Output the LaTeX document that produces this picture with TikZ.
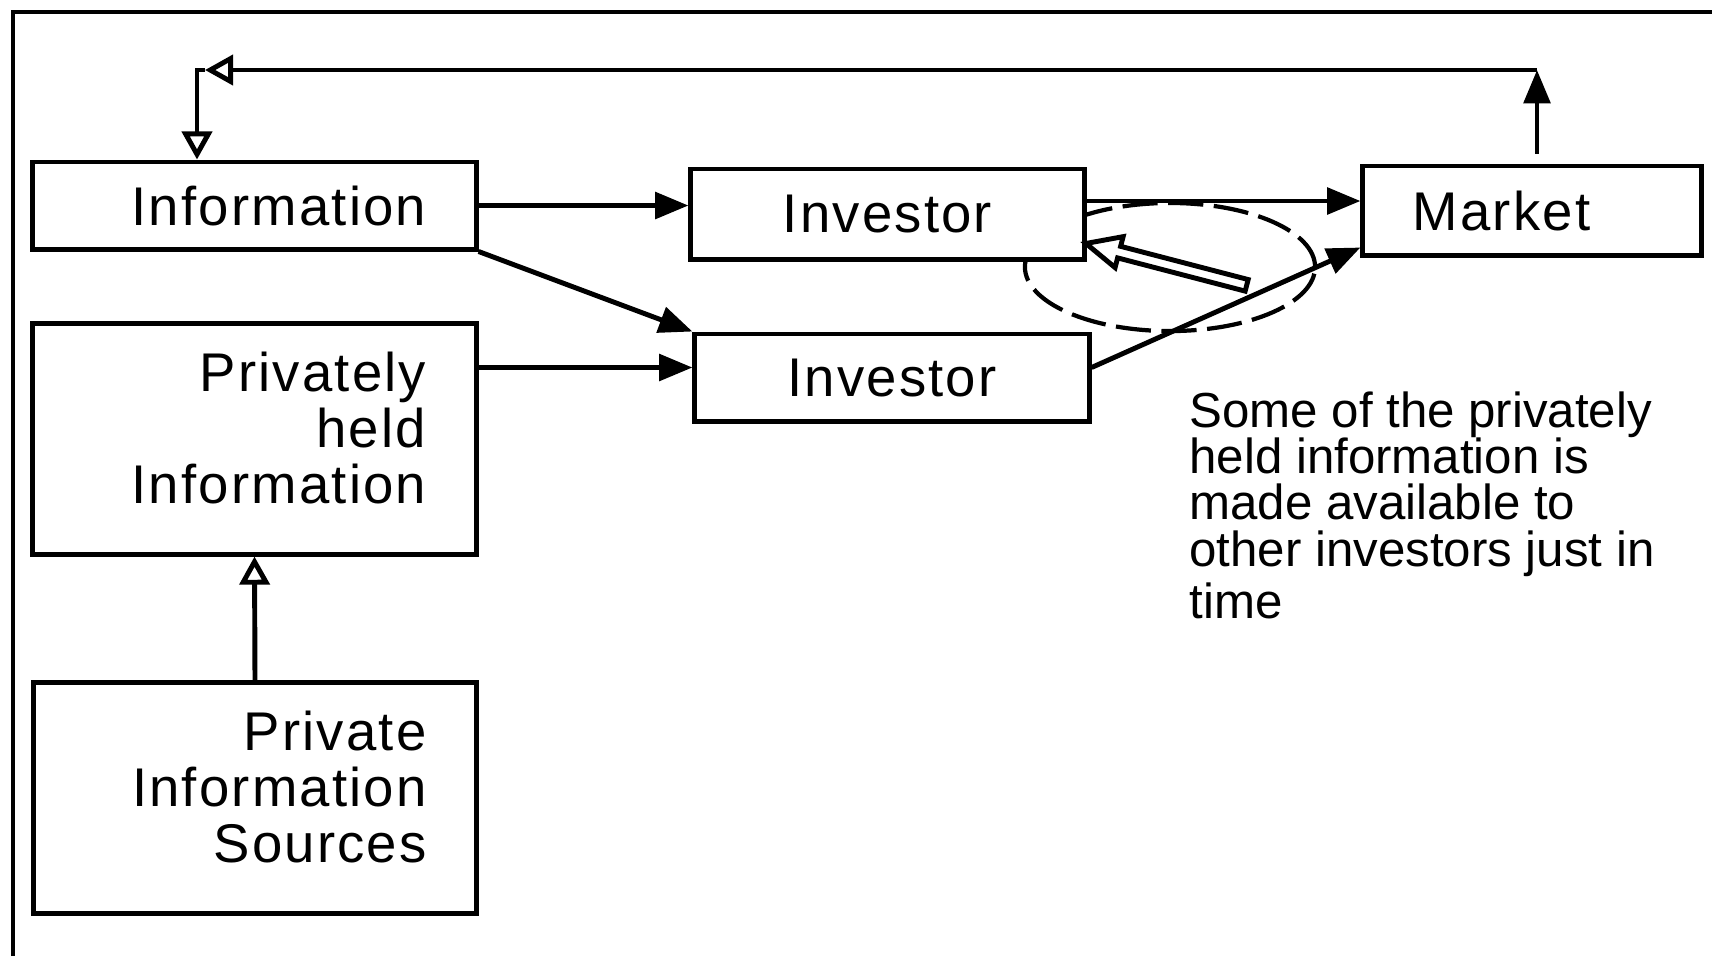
\documentclass[tikz,border=0pt]{standalone}
\usepackage{fontspec}
\setmainfont{Liberation Sans}
\usetikzlibrary{arrows.meta,shapes.arrows}

\begin{document}
\begin{tikzpicture}[x=0.01cm, y=-0.01cm, line width=1.4pt,
    box/.style={draw, fill=white, inner ysep=0pt, font=\fontsize{15.5}{16}\selectfont\addfontfeatures{LetterSpace=4}},
    sinistra/.style={box, minimum width=4.43cm, text width=3.43cm, inner xsep=0.5cm, align=right},
    pieno/.style={-{Triangle[length=9.5pt, width=7.5pt]}},
    vuoto/.style={-{Triangle[open, length=8pt, width=8.5pt]}}]
    % Cornice: solo lato superiore e sinistro
    \useasboundingbox (0,0) rectangle (1712,956);
    \draw[line width=1.3pt] (13,956) -- (13,12) -- (1712,12);

    % Ellisse tratteggiata (coperta in parte dal primo investitore)
    \draw[line width=1.2pt, dash pattern=on 10pt off 3pt] (1170,267) ellipse [x radius=1.45cm, y radius=0.64cm];

    % Riquadri a sinistra (testo un po' alto, come nell'originale)
    \node[sinistra, minimum height=0.87cm] (info) at (254.5,205.5) {Information};
    \node[sinistra, minimum height=2.3cm] (priv) at (254.5,439) {Privately\\held\\Information\\[-0.34cm]\mbox{}};
    \node[sinistra, minimum height=2.3cm] (src) at (255,798) {Private\\Information\\Sources\\[-0.34cm]\mbox{}};

    % Investitori e mercato
    \node[box, minimum width=3.93cm, minimum height=0.9cm] (inv1) at (887.5,214) {Investor};
    \node[box, minimum width=3.94cm, minimum height=0.87cm] (inv2) at (892,377.5) {Investor};
    \node[box, minimum width=3.38cm, minimum height=0.89cm, text width=2.38cm, inner xsep=0.5cm, align=left] (mkt) at (1532,210.5) {Market};

    % Freccia vuota dentro l'ellisse
    \node[single arrow, draw, fill=white, rotate=165.4, minimum height=1.66cm, minimum width=0.25cm,
          inner sep=1pt, single arrow tip angle=50, single arrow head extend=0.1cm] (freccia) at (1172.5,266) {};

    % Nota
    \node[anchor=north west, inner sep=0pt, align=left, font=\fontsize{14}{13.2}\selectfont] (nota) at (1187,389)
        {Some of the privately\\held information is\\made available to\\other investors just in\\[1.5pt]time};

    % Frecce tra i riquadri
    \draw[pieno] (info.east) -- (info.east -| inv1.west);
    \draw[pieno] (info.south east) -- (inv2.north west);
    \coordinate (inv2in) at ([yshift=0.1cm]inv2.west);
    \draw[pieno] (priv.east |- inv2in) -- (inv2in);
    \draw[vuoto] (src.north) -- (priv.south);
    \coordinate (inv1out) at ([yshift=0.13cm]inv1.east);
    \draw[pieno] (inv1out) -- (inv1out -| mkt.west);
    \draw[pieno] ([yshift=0.1cm]inv2.east) -- ([yshift=0.1cm]mkt.south west);

    % Ritorno dal mercato all'informazione
    \coordinate (alto) at (1537,70);
    \coordinate (punta) at (205,70);
    \coordinate (angolo) at (197,70);
    \draw[pieno, shorten <=0.1cm] (mkt.north -| alto) -- (alto);
    \draw[vuoto] (alto) -- (punta);
    \draw[vuoto] (punta) -- (angolo) -- (angolo |- info.north);
\end{tikzpicture}
\end{document}
